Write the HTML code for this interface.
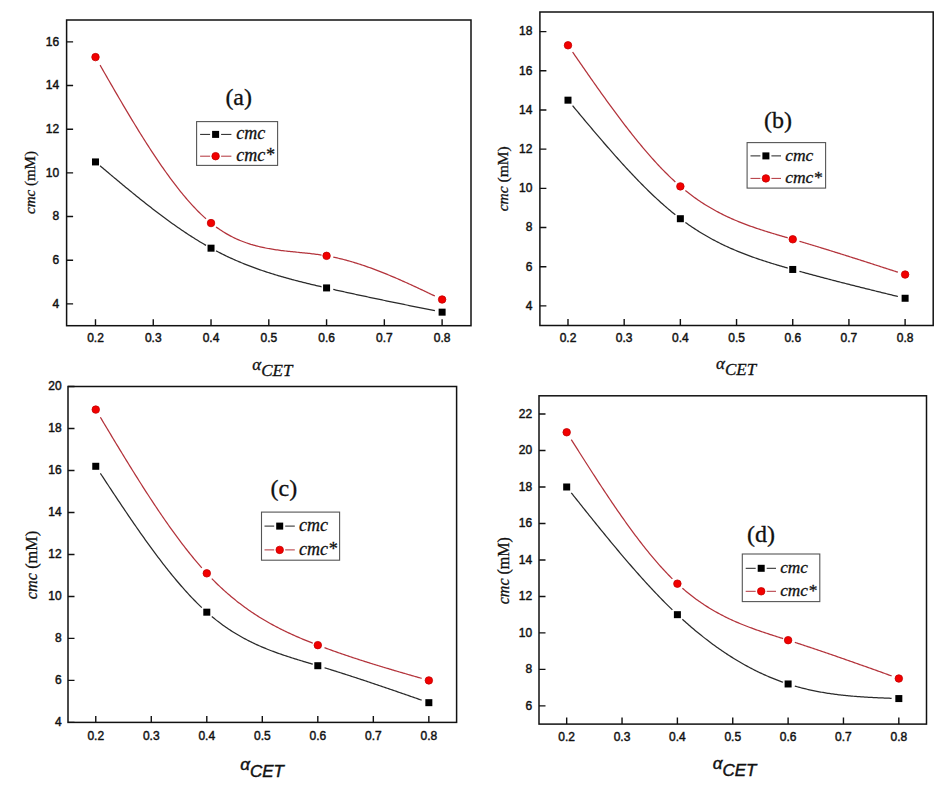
<!DOCTYPE html><html><head><meta charset="utf-8"><style>html,body{margin:0;padding:0;background:#fff;}svg{display:block;}.t{font-family:"Liberation Sans",Arial,sans-serif;font-size:12px;fill:#111;stroke:#111;stroke-width:0.45px;}.s{font-family:"Liberation Serif","Times New Roman",serif;fill:#111;stroke:#111;stroke-width:0.3px;}.i{font-style:italic;}</style></head><body>
<svg width="942" height="785" viewBox="0 0 942 785">
<rect width="942" height="785" fill="#fff"/>
<path d="M100.09,165.82 L101.43,166.95 L102.77,168.08 L104.11,169.21 L105.45,170.34 L106.79,171.47 L108.13,172.6 L109.47,173.73 L110.81,174.86 L112.16,175.98 L113.5,177.11 L114.84,178.23 L116.18,179.35 L117.52,180.47 L118.86,181.59 L120.2,182.7 L121.54,183.82 L122.88,184.93 L124.22,186.04 L125.57,187.15 L126.91,188.25 L128.25,189.35 L129.59,190.45 L130.93,191.55 L132.27,192.64 L133.61,193.74 L134.95,194.82 L136.29,195.91 L137.64,196.99 L138.98,198.07 L140.32,199.15 L141.66,200.22 L143,201.28 L144.34,202.35 L145.68,203.41 L147.02,204.47 L148.36,205.52 L149.7,206.57 L151.05,207.61 L152.39,208.65 L153.73,209.68 L155.07,210.71 L156.41,211.74 L157.75,212.76 L159.09,213.78 L160.43,214.79 L161.77,215.79 L163.12,216.79 L164.46,217.79 L165.8,218.78 L167.14,219.76 L168.48,220.74 L169.82,221.71 L171.16,222.67 L172.5,223.64 L173.84,224.59 L175.18,225.54 L176.53,226.48 L177.87,227.41 L179.21,228.34 L180.55,229.26 L181.89,230.18 L183.23,231.09 L184.57,231.99 L185.91,232.88 L187.25,233.77 L188.59,234.65 L189.94,235.52 L191.28,236.39 L192.62,237.24 L193.96,238.09 L195.3,238.93 L196.64,239.77 L197.98,240.59 L199.32,241.41 L200.66,242.22 L202.01,243.02 L203.35,243.81 L204.69,244.6 L206.03,245.37 M216.03,250.87 L217.36,251.57 L218.7,252.25 L220.04,252.93 L221.37,253.6 L222.71,254.27 L224.04,254.92 L225.38,255.57 L226.72,256.2 L228.05,256.83 L229.39,257.46 L230.72,258.07 L232.06,258.68 L233.4,259.28 L234.73,259.87 L236.07,260.45 L237.4,261.03 L238.74,261.6 L240.08,262.16 L241.41,262.71 L242.75,263.26 L244.08,263.8 L245.42,264.34 L246.76,264.87 L248.09,265.39 L249.43,265.9 L250.76,266.41 L252.1,266.91 L253.44,267.41 L254.77,267.9 L256.11,268.39 L257.44,268.86 L258.78,269.34 L260.12,269.8 L261.45,270.26 L262.79,270.72 L264.12,271.17 L265.46,271.61 L266.8,272.05 L268.13,272.49 L269.47,272.92 L270.8,273.34 L272.14,273.76 L273.48,274.18 L274.81,274.59 L276.15,275 L277.48,275.4 L278.82,275.79 L280.16,276.19 L281.49,276.58 L282.83,276.96 L284.16,277.34 L285.5,277.72 L286.84,278.09 L288.17,278.46 L289.51,278.83 L290.84,279.19 L292.18,279.55 L293.52,279.9 L294.85,280.26 L296.19,280.6 L297.52,280.95 L298.86,281.29 L300.2,281.63 L301.53,281.97 L302.87,282.31 L304.2,282.64 L305.54,282.97 L306.88,283.3 L308.21,283.62 L309.55,283.95 L310.88,284.27 L312.22,284.59 L313.56,284.91 L314.89,285.22 L316.23,285.54 L317.56,285.85 L318.9,286.16 L320.24,286.47 L321.57,286.78 M333.27,289.44 L334.56,289.73 L335.84,290.02 L337.13,290.3 L338.42,290.59 L339.7,290.88 L340.99,291.16 L342.28,291.45 L343.56,291.73 L344.85,292.01 L346.14,292.29 L347.42,292.58 L348.71,292.86 L350,293.14 L351.28,293.42 L352.57,293.7 L353.86,293.98 L355.14,294.26 L356.43,294.53 L357.72,294.81 L359,295.09 L360.29,295.36 L361.58,295.64 L362.86,295.91 L364.15,296.19 L365.44,296.46 L366.72,296.73 L368.01,297.01 L369.3,297.28 L370.58,297.55 L371.87,297.82 L373.16,298.09 L374.44,298.36 L375.73,298.63 L377.02,298.9 L378.3,299.17 L379.59,299.44 L380.88,299.71 L382.16,299.98 L383.45,300.25 L384.74,300.51 L386.02,300.78 L387.31,301.05 L388.6,301.31 L389.88,301.58 L391.17,301.84 L392.46,302.11 L393.74,302.37 L395.03,302.64 L396.32,302.9 L397.6,303.16 L398.89,303.43 L400.18,303.69 L401.46,303.95 L402.75,304.22 L404.04,304.48 L405.32,304.74 L406.61,305 L407.9,305.26 L409.18,305.52 L410.47,305.79 L411.76,306.05 L413.04,306.31 L414.33,306.57 L415.62,306.83 L416.9,307.09 L418.19,307.35 L419.47,307.61 L420.76,307.87 L422.05,308.13 L423.33,308.39 L424.62,308.65 L425.91,308.9 L427.19,309.16 L428.48,309.42 L429.77,309.68 L431.05,309.94 L432.34,310.2 L433.63,310.46 L434.91,310.72" fill="none" stroke="#2a2a2a" stroke-width="1.25"/>
<path d="M100.09,65.17 L101.43,67.51 L102.77,69.86 L104.11,72.2 L105.45,74.53 L106.79,76.87 L108.13,79.2 L109.47,81.53 L110.81,83.86 L112.16,86.18 L113.5,88.5 L114.84,90.82 L116.18,93.12 L117.52,95.43 L118.86,97.73 L120.2,100.02 L121.54,102.3 L122.88,104.58 L124.22,106.86 L125.57,109.12 L126.91,111.38 L128.25,113.63 L129.59,115.87 L130.93,118.1 L132.27,120.32 L133.61,122.54 L134.95,124.74 L136.29,126.94 L137.64,129.12 L138.98,131.3 L140.32,133.46 L141.66,135.61 L143,137.75 L144.34,139.88 L145.68,141.99 L147.02,144.09 L148.36,146.18 L149.7,148.26 L151.05,150.32 L152.39,152.37 L153.73,154.4 L155.07,156.42 L156.41,158.42 L157.75,160.41 L159.09,162.38 L160.43,164.34 L161.77,166.28 L163.12,168.2 L164.46,170.11 L165.8,172 L167.14,173.87 L168.48,175.72 L169.82,177.55 L171.16,179.37 L172.5,181.16 L173.84,182.94 L175.18,184.7 L176.53,186.43 L177.87,188.15 L179.21,189.84 L180.55,191.52 L181.89,193.17 L183.23,194.8 L184.57,196.41 L185.91,197.99 L187.25,199.55 L188.59,201.09 L189.94,202.61 L191.28,204.1 L192.62,205.57 L193.96,207.01 L195.3,208.43 L196.64,209.82 L197.98,211.19 L199.32,212.53 L200.66,213.84 L202.01,215.13 L203.35,216.39 L204.69,217.62 L206.03,218.83 M216.03,226.92 L217.36,227.88 L218.7,228.81 L220.04,229.72 L221.37,230.6 L222.71,231.46 L224.04,232.29 L225.38,233.09 L226.72,233.88 L228.05,234.63 L229.39,235.37 L230.72,236.08 L232.06,236.77 L233.4,237.44 L234.73,238.08 L236.07,238.71 L237.4,239.31 L238.74,239.89 L240.08,240.46 L241.41,241 L242.75,241.53 L244.08,242.03 L245.42,242.52 L246.76,242.99 L248.09,243.45 L249.43,243.88 L250.76,244.31 L252.1,244.71 L253.44,245.1 L254.77,245.47 L256.11,245.84 L257.44,246.18 L258.78,246.51 L260.12,246.83 L261.45,247.14 L262.79,247.43 L264.12,247.72 L265.46,247.99 L266.8,248.25 L268.13,248.5 L269.47,248.74 L270.8,248.97 L272.14,249.19 L273.48,249.4 L274.81,249.61 L276.15,249.8 L277.48,249.99 L278.82,250.17 L280.16,250.35 L281.49,250.52 L282.83,250.68 L284.16,250.84 L285.5,251 L286.84,251.15 L288.17,251.29 L289.51,251.44 L290.84,251.58 L292.18,251.71 L293.52,251.85 L294.85,251.98 L296.19,252.12 L297.52,252.25 L298.86,252.38 L300.2,252.51 L301.53,252.64 L302.87,252.78 L304.2,252.91 L305.54,253.05 L306.88,253.19 L308.21,253.33 L309.55,253.48 L310.88,253.63 L312.22,253.78 L313.56,253.94 L314.89,254.11 L316.23,254.28 L317.56,254.45 L318.9,254.63 L320.24,254.82 L321.57,255.02 M333.27,257.11 L334.56,257.38 L335.84,257.66 L337.13,257.95 L338.42,258.24 L339.7,258.55 L340.99,258.86 L342.28,259.18 L343.56,259.51 L344.85,259.84 L346.14,260.18 L347.42,260.53 L348.71,260.89 L350,261.25 L351.28,261.63 L352.57,262 L353.86,262.39 L355.14,262.78 L356.43,263.18 L357.72,263.58 L359,263.99 L360.29,264.41 L361.58,264.83 L362.86,265.26 L364.15,265.7 L365.44,266.14 L366.72,266.58 L368.01,267.04 L369.3,267.49 L370.58,267.96 L371.87,268.43 L373.16,268.9 L374.44,269.38 L375.73,269.87 L377.02,270.36 L378.3,270.85 L379.59,271.35 L380.88,271.86 L382.16,272.37 L383.45,272.88 L384.74,273.4 L386.02,273.92 L387.31,274.45 L388.6,274.98 L389.88,275.51 L391.17,276.05 L392.46,276.6 L393.74,277.14 L395.03,277.69 L396.32,278.25 L397.6,278.8 L398.89,279.37 L400.18,279.93 L401.46,280.5 L402.75,281.07 L404.04,281.64 L405.32,282.22 L406.61,282.8 L407.9,283.38 L409.18,283.96 L410.47,284.55 L411.76,285.14 L413.04,285.73 L414.33,286.32 L415.62,286.92 L416.9,287.52 L418.19,288.12 L419.47,288.72 L420.76,289.32 L422.05,289.93 L423.33,290.53 L424.62,291.14 L425.91,291.75 L427.19,292.36 L428.48,292.97 L429.77,293.58 L431.05,294.2 L432.34,294.81 L433.63,295.43 L434.91,296.04" fill="none" stroke="#b3333b" stroke-width="1.25"/>
<rect x="91.99" y="158.43" width="7" height="7" fill="#000"/>
<rect x="207.53" y="244.68" width="7" height="7" fill="#000"/>
<rect x="323.07" y="284.42" width="7" height="7" fill="#000"/>
<rect x="438.61" y="308.66" width="7" height="7" fill="#000"/>
<circle cx="95.49" cy="57.12" r="3.75" fill="#f20000" stroke="#c40000" stroke-width="0.8"/>
<circle cx="211.03" cy="223.07" r="3.75" fill="#f20000" stroke="#c40000" stroke-width="0.8"/>
<circle cx="326.57" cy="255.83" r="3.75" fill="#f20000" stroke="#c40000" stroke-width="0.8"/>
<circle cx="442.11" cy="299.5" r="3.75" fill="#f20000" stroke="#c40000" stroke-width="0.8"/>
<rect x="66.6" y="20" width="404.4" height="305.7" fill="none" stroke="#111" stroke-width="1.5"/>
<text class="t" x="95.49" y="342" text-anchor="middle">0.2</text>
<text class="t" x="153.26" y="342" text-anchor="middle">0.3</text>
<text class="t" x="211.03" y="342" text-anchor="middle">0.4</text>
<text class="t" x="268.8" y="342" text-anchor="middle">0.5</text>
<text class="t" x="326.57" y="342" text-anchor="middle">0.6</text>
<text class="t" x="384.34" y="342" text-anchor="middle">0.7</text>
<text class="t" x="442.11" y="342" text-anchor="middle">0.8</text>
<text class="t" x="59.1" y="307.76" text-anchor="end">4</text>
<text class="t" x="59.1" y="264.09" text-anchor="end">6</text>
<text class="t" x="59.1" y="220.42" text-anchor="end">8</text>
<text class="t" x="59.1" y="176.75" text-anchor="end">10</text>
<text class="t" x="59.1" y="133.08" text-anchor="end">12</text>
<text class="t" x="59.1" y="89.41" text-anchor="end">14</text>
<text class="t" x="59.1" y="45.74" text-anchor="end">16</text>
<path d="M95.49 325.7v-6.5 M153.26 325.7v-6.5 M211.03 325.7v-6.5 M268.8 325.7v-6.5 M326.57 325.7v-6.5 M384.34 325.7v-6.5 M442.11 325.7v-6.5 M66.6 303.86h6.5 M66.6 260.19h6.5 M66.6 216.52h6.5 M66.6 172.85h6.5 M66.6 129.18h6.5 M66.6 85.51h6.5 M66.6 41.84h6.5" stroke="#111" stroke-width="1.4" fill="none"/>
<text class="s" x="238.7" y="105.3" font-size="24" text-anchor="middle">(a)</text>
<rect x="196.6" y="121.6" width="81" height="43.8" fill="#fff" stroke="#555" stroke-width="1.1"/>
<path d="M200.1 134.4H210.1M221.1 134.4H231.4" stroke="#222" stroke-width="1" fill="none"/>
<path d="M200.1 156.2H210.1M221.1 156.2H231.4" stroke="#b3333b" stroke-width="1" fill="none"/>
<rect x="212.1" y="130.9" width="7" height="7" fill="#000"/>
<circle cx="215.6" cy="156.2" r="3.75" fill="#f20000" stroke="#c40000" stroke-width="0.8"/>
<text class="s i" x="236.2" y="139.4" font-size="18">cmc</text>
<text class="s i" x="236.2" y="161.2" font-size="18">cmc*</text>
<text class="s" font-size="15" transform="translate(34.8,182.5) rotate(-90)" text-anchor="middle"><tspan font-style="italic">cmc</tspan> (mM)</text>
<text class="s i" x="252.3" y="370.3" font-size="17" style="font-size:17px">&#945;<tspan dy="5.9">CET</tspan></text>
<path d="M572.59,105.7 L573.89,107.27 L575.19,108.83 L576.5,110.39 L577.8,111.95 L579.1,113.51 L580.4,115.07 L581.7,116.63 L583,118.18 L584.3,119.74 L585.6,121.29 L586.9,122.84 L588.2,124.38 L589.5,125.93 L590.81,127.47 L592.11,129.01 L593.41,130.55 L594.71,132.08 L596.01,133.61 L597.31,135.14 L598.61,136.66 L599.91,138.18 L601.21,139.7 L602.51,141.21 L603.81,142.72 L605.12,144.22 L606.42,145.72 L607.72,147.22 L609.02,148.71 L610.32,150.19 L611.62,151.67 L612.92,153.15 L614.22,154.62 L615.52,156.08 L616.82,157.54 L618.12,158.99 L619.43,160.44 L620.73,161.88 L622.03,163.32 L623.33,164.74 L624.63,166.17 L625.93,167.58 L627.23,168.99 L628.53,170.39 L629.83,171.78 L631.13,173.17 L632.43,174.55 L633.74,175.92 L635.04,177.28 L636.34,178.64 L637.64,179.98 L638.94,181.32 L640.24,182.65 L641.54,183.97 L642.84,185.29 L644.14,186.59 L645.44,187.89 L646.74,189.17 L648.05,190.45 L649.35,191.72 L650.65,192.97 L651.95,194.22 L653.25,195.46 L654.55,196.69 L655.85,197.9 L657.15,199.11 L658.45,200.31 L659.75,201.49 L661.05,202.67 L662.36,203.83 L663.66,204.98 L664.96,206.12 L666.26,207.25 L667.56,208.37 L668.86,209.48 L670.16,210.57 L671.46,211.65 L672.76,212.72 L674.06,213.78 L675.36,214.82 M685.36,222.41 L686.66,223.34 L687.96,224.25 L689.25,225.16 L690.55,226.05 L691.84,226.93 L693.14,227.79 L694.44,228.64 L695.73,229.49 L697.03,230.32 L698.32,231.14 L699.62,231.95 L700.91,232.74 L702.21,233.53 L703.51,234.3 L704.8,235.07 L706.1,235.82 L707.39,236.56 L708.69,237.3 L709.99,238.02 L711.28,238.73 L712.58,239.43 L713.87,240.13 L715.17,240.81 L716.46,241.48 L717.76,242.15 L719.06,242.8 L720.35,243.45 L721.65,244.09 L722.94,244.71 L724.24,245.33 L725.54,245.95 L726.83,246.55 L728.13,247.14 L729.42,247.73 L730.72,248.31 L732.01,248.88 L733.31,249.44 L734.61,250 L735.9,250.55 L737.2,251.09 L738.49,251.62 L739.79,252.15 L741.09,252.67 L742.38,253.18 L743.68,253.69 L744.97,254.19 L746.27,254.69 L747.56,255.17 L748.86,255.66 L750.16,256.13 L751.45,256.6 L752.75,257.07 L754.04,257.53 L755.34,257.98 L756.64,258.43 L757.93,258.88 L759.23,259.32 L760.52,259.75 L761.82,260.18 L763.11,260.61 L764.41,261.03 L765.71,261.45 L767,261.86 L768.3,262.27 L769.59,262.68 L770.89,263.08 L772.19,263.48 L773.48,263.88 L774.78,264.27 L776.07,264.66 L777.37,265.04 L778.66,265.43 L779.96,265.81 L781.26,266.19 L782.55,266.57 L783.85,266.94 L785.14,267.31 L786.44,267.68 L787.74,268.05 M799.44,271.32 L800.68,271.67 L801.93,272.01 L803.18,272.35 L804.42,272.69 L805.67,273.03 L806.91,273.37 L808.16,273.71 L809.41,274.05 L810.65,274.38 L811.9,274.72 L813.15,275.05 L814.39,275.39 L815.64,275.72 L816.89,276.05 L818.13,276.39 L819.38,276.72 L820.63,277.05 L821.87,277.38 L823.12,277.7 L824.37,278.03 L825.61,278.36 L826.86,278.69 L828.1,279.01 L829.35,279.34 L830.6,279.66 L831.84,279.99 L833.09,280.31 L834.34,280.63 L835.58,280.95 L836.83,281.27 L838.08,281.6 L839.32,281.92 L840.57,282.24 L841.82,282.55 L843.06,282.87 L844.31,283.19 L845.56,283.51 L846.8,283.83 L848.05,284.14 L849.29,284.46 L850.54,284.77 L851.79,285.09 L853.03,285.4 L854.28,285.72 L855.53,286.03 L856.77,286.34 L858.02,286.66 L859.27,286.97 L860.51,287.28 L861.76,287.59 L863.01,287.9 L864.25,288.21 L865.5,288.52 L866.75,288.83 L867.99,289.14 L869.24,289.45 L870.48,289.76 L871.73,290.07 L872.98,290.38 L874.22,290.69 L875.47,291 L876.72,291.3 L877.96,291.61 L879.21,291.92 L880.46,292.22 L881.7,292.53 L882.95,292.84 L884.2,293.14 L885.44,293.45 L886.69,293.76 L887.94,294.06 L889.18,294.37 L890.43,294.67 L891.67,294.98 L892.92,295.28 L894.17,295.59 L895.41,295.89 L896.66,296.2 L897.91,296.5" fill="none" stroke="#2a2a2a" stroke-width="1.25"/>
<path d="M572.59,52 L573.89,53.89 L575.19,55.78 L576.5,57.66 L577.8,59.55 L579.1,61.44 L580.4,63.32 L581.7,65.2 L583,67.08 L584.3,68.96 L585.6,70.83 L586.9,72.7 L588.2,74.57 L589.5,76.44 L590.81,78.3 L592.11,80.15 L593.41,82.01 L594.71,83.86 L596.01,85.7 L597.31,87.55 L598.61,89.38 L599.91,91.21 L601.21,93.04 L602.51,94.86 L603.81,96.68 L605.12,98.49 L606.42,100.29 L607.72,102.09 L609.02,103.88 L610.32,105.67 L611.62,107.45 L612.92,109.22 L614.22,110.98 L615.52,112.74 L616.82,114.49 L618.12,116.23 L619.43,117.96 L620.73,119.69 L622.03,121.4 L623.33,123.11 L624.63,124.81 L625.93,126.5 L627.23,128.18 L628.53,129.85 L629.83,131.51 L631.13,133.17 L632.43,134.81 L633.74,136.44 L635.04,138.06 L636.34,139.67 L637.64,141.27 L638.94,142.86 L640.24,144.44 L641.54,146 L642.84,147.55 L644.14,149.1 L645.44,150.63 L646.74,152.14 L648.05,153.65 L649.35,155.14 L650.65,156.62 L651.95,158.08 L653.25,159.53 L654.55,160.97 L655.85,162.4 L657.15,163.81 L658.45,165.2 L659.75,166.59 L661.05,167.95 L662.36,169.31 L663.66,170.64 L664.96,171.96 L666.26,173.27 L667.56,174.56 L668.86,175.84 L670.16,177.1 L671.46,178.34 L672.76,179.56 L674.06,180.77 L675.36,181.96 M685.36,190.54 L686.66,191.58 L687.96,192.6 L689.25,193.6 L690.55,194.59 L691.84,195.56 L693.14,196.51 L694.44,197.45 L695.73,198.37 L697.03,199.28 L698.32,200.18 L699.62,201.05 L700.91,201.92 L702.21,202.77 L703.51,203.6 L704.8,204.42 L706.1,205.23 L707.39,206.02 L708.69,206.8 L709.99,207.57 L711.28,208.32 L712.58,209.07 L713.87,209.8 L715.17,210.51 L716.46,211.22 L717.76,211.91 L719.06,212.59 L720.35,213.26 L721.65,213.92 L722.94,214.57 L724.24,215.21 L725.54,215.83 L726.83,216.45 L728.13,217.06 L729.42,217.66 L730.72,218.24 L732.01,218.82 L733.31,219.39 L734.61,219.95 L735.9,220.5 L737.2,221.04 L738.49,221.58 L739.79,222.1 L741.09,222.62 L742.38,223.13 L743.68,223.63 L744.97,224.13 L746.27,224.62 L747.56,225.1 L748.86,225.57 L750.16,226.04 L751.45,226.5 L752.75,226.96 L754.04,227.41 L755.34,227.86 L756.64,228.3 L757.93,228.73 L759.23,229.16 L760.52,229.59 L761.82,230.01 L763.11,230.42 L764.41,230.84 L765.71,231.25 L767,231.65 L768.3,232.05 L769.59,232.45 L770.89,232.85 L772.19,233.24 L773.48,233.63 L774.78,234.02 L776.07,234.41 L777.37,234.79 L778.66,235.17 L779.96,235.56 L781.26,235.94 L782.55,236.32 L783.85,236.69 L785.14,237.07 L786.44,237.45 L787.74,237.83 M799.44,241.26 L800.68,241.63 L801.93,242 L803.18,242.38 L804.42,242.75 L805.67,243.12 L806.91,243.49 L808.16,243.87 L809.41,244.25 L810.65,244.62 L811.9,245 L813.15,245.38 L814.39,245.75 L815.64,246.13 L816.89,246.51 L818.13,246.89 L819.38,247.27 L820.63,247.66 L821.87,248.04 L823.12,248.42 L824.37,248.81 L825.61,249.19 L826.86,249.58 L828.1,249.96 L829.35,250.35 L830.6,250.73 L831.84,251.12 L833.09,251.51 L834.34,251.9 L835.58,252.29 L836.83,252.68 L838.08,253.07 L839.32,253.46 L840.57,253.85 L841.82,254.24 L843.06,254.63 L844.31,255.02 L845.56,255.42 L846.8,255.81 L848.05,256.2 L849.29,256.6 L850.54,256.99 L851.79,257.39 L853.03,257.78 L854.28,258.18 L855.53,258.58 L856.77,258.97 L858.02,259.37 L859.27,259.77 L860.51,260.17 L861.76,260.57 L863.01,260.96 L864.25,261.36 L865.5,261.76 L866.75,262.16 L867.99,262.56 L869.24,262.96 L870.48,263.36 L871.73,263.76 L872.98,264.16 L874.22,264.56 L875.47,264.97 L876.72,265.37 L877.96,265.77 L879.21,266.17 L880.46,266.57 L881.7,266.98 L882.95,267.38 L884.2,267.78 L885.44,268.18 L886.69,268.59 L887.94,268.99 L889.18,269.39 L890.43,269.8 L891.67,270.2 L892.92,270.61 L894.17,271.01 L895.41,271.41 L896.66,271.82 L897.91,272.22" fill="none" stroke="#b3333b" stroke-width="1.25"/>
<rect x="564.49" y="96.67" width="7" height="7" fill="#000"/>
<rect x="676.86" y="215.21" width="7" height="7" fill="#000"/>
<rect x="789.24" y="265.96" width="7" height="7" fill="#000"/>
<rect x="901.61" y="294.76" width="7" height="7" fill="#000"/>
<circle cx="567.99" cy="45.31" r="3.75" fill="#f20000" stroke="#c40000" stroke-width="0.8"/>
<circle cx="680.36" cy="186.38" r="3.75" fill="#f20000" stroke="#c40000" stroke-width="0.8"/>
<circle cx="792.74" cy="239.29" r="3.75" fill="#f20000" stroke="#c40000" stroke-width="0.8"/>
<circle cx="905.11" cy="274.56" r="3.75" fill="#f20000" stroke="#c40000" stroke-width="0.8"/>
<rect x="539.9" y="12" width="393.3" height="313.5" fill="none" stroke="#111" stroke-width="1.5"/>
<text class="t" x="567.99" y="342" text-anchor="middle">0.2</text>
<text class="t" x="624.18" y="342" text-anchor="middle">0.3</text>
<text class="t" x="680.36" y="342" text-anchor="middle">0.4</text>
<text class="t" x="736.55" y="342" text-anchor="middle">0.5</text>
<text class="t" x="792.74" y="342" text-anchor="middle">0.6</text>
<text class="t" x="848.92" y="342" text-anchor="middle">0.7</text>
<text class="t" x="905.11" y="342" text-anchor="middle">0.8</text>
<text class="t" x="532.4" y="309.81" text-anchor="end">4</text>
<text class="t" x="532.4" y="270.62" text-anchor="end">6</text>
<text class="t" x="532.4" y="231.43" text-anchor="end">8</text>
<text class="t" x="532.4" y="192.24" text-anchor="end">10</text>
<text class="t" x="532.4" y="153.06" text-anchor="end">12</text>
<text class="t" x="532.4" y="113.87" text-anchor="end">14</text>
<text class="t" x="532.4" y="74.68" text-anchor="end">16</text>
<text class="t" x="532.4" y="35.49" text-anchor="end">18</text>
<path d="M567.99 325.5v-6.5 M624.18 325.5v-6.5 M680.36 325.5v-6.5 M736.55 325.5v-6.5 M792.74 325.5v-6.5 M848.92 325.5v-6.5 M905.11 325.5v-6.5 M539.9 305.91h6.5 M539.9 266.72h6.5 M539.9 227.53h6.5 M539.9 188.34h6.5 M539.9 149.16h6.5 M539.9 109.97h6.5 M539.9 70.78h6.5 M539.9 31.59h6.5" stroke="#111" stroke-width="1.4" fill="none"/>
<text class="s" x="778" y="128" font-size="24" text-anchor="middle">(b)</text>
<rect x="747.1" y="142.6" width="78.5" height="45.5" fill="#fff" stroke="#555" stroke-width="1.1"/>
<path d="M750.5 155.9H760.4M771.4 155.9H781" stroke="#222" stroke-width="1" fill="none"/>
<path d="M750.5 178.4H760.4M771.4 178.4H781" stroke="#b3333b" stroke-width="1" fill="none"/>
<rect x="762.4" y="152.4" width="7" height="7" fill="#000"/>
<circle cx="765.9" cy="178.4" r="3.75" fill="#f20000" stroke="#c40000" stroke-width="0.8"/>
<text class="s i" x="785.2" y="160.9" font-size="17.5">cmc</text>
<text class="s i" x="785.2" y="183.4" font-size="17.5">cmc*</text>
<text class="s" font-size="15.5" transform="translate(508.4,178.8) rotate(-90)" text-anchor="middle"><tspan font-style="italic">cmc</tspan> (mM)</text>
<text class="s i" x="716" y="368.7" font-size="17" style="font-size:17px">&#945;<tspan dy="6.3">CET</tspan></text>
<path d="M100.36,473.29 L101.64,475.25 L102.92,477.21 L104.21,479.16 L105.49,481.12 L106.78,483.07 L108.06,485.02 L109.34,486.97 L110.63,488.91 L111.91,490.86 L113.2,492.8 L114.48,494.74 L115.76,496.67 L117.05,498.6 L118.33,500.53 L119.62,502.45 L120.9,504.37 L122.18,506.29 L123.47,508.2 L124.75,510.1 L126.04,512 L127.32,513.9 L128.6,515.79 L129.89,517.68 L131.17,519.56 L132.45,521.43 L133.74,523.3 L135.02,525.16 L136.31,527.01 L137.59,528.86 L138.87,530.7 L140.16,532.53 L141.44,534.35 L142.73,536.17 L144.01,537.98 L145.29,539.78 L146.58,541.57 L147.86,543.36 L149.15,545.13 L150.43,546.9 L151.71,548.66 L153,550.4 L154.28,552.14 L155.57,553.87 L156.85,555.59 L158.13,557.29 L159.42,558.99 L160.7,560.67 L161.98,562.35 L163.27,564.01 L164.55,565.66 L165.84,567.3 L167.12,568.93 L168.4,570.55 L169.69,572.15 L170.97,573.74 L172.26,575.32 L173.54,576.89 L174.82,578.44 L176.11,579.98 L177.39,581.5 L178.68,583.01 L179.96,584.51 L181.24,585.99 L182.53,587.46 L183.81,588.91 L185.09,590.35 L186.38,591.78 L187.66,593.18 L188.95,594.58 L190.23,595.95 L191.51,597.31 L192.8,598.66 L194.08,599.98 L195.37,601.29 L196.65,602.59 L197.93,603.87 L199.22,605.12 L200.5,606.37 L201.79,607.59 M211.79,616.49 L213.06,617.55 L214.34,618.59 L215.62,619.62 L216.9,620.62 L218.18,621.61 L219.46,622.58 L220.74,623.54 L222.02,624.48 L223.3,625.4 L224.57,626.31 L225.85,627.21 L227.13,628.08 L228.41,628.95 L229.69,629.79 L230.97,630.63 L232.25,631.44 L233.53,632.25 L234.8,633.04 L236.08,633.82 L237.36,634.58 L238.64,635.33 L239.92,636.07 L241.2,636.79 L242.48,637.51 L243.76,638.21 L245.04,638.89 L246.31,639.57 L247.59,640.23 L248.87,640.89 L250.15,641.53 L251.43,642.16 L252.71,642.78 L253.99,643.39 L255.27,643.99 L256.55,644.58 L257.82,645.16 L259.1,645.73 L260.38,646.3 L261.66,646.85 L262.94,647.39 L264.22,647.93 L265.5,648.45 L266.78,648.97 L268.05,649.48 L269.33,649.99 L270.61,650.48 L271.89,650.97 L273.17,651.45 L274.45,651.93 L275.73,652.4 L277.01,652.86 L278.29,653.32 L279.56,653.77 L280.84,654.21 L282.12,654.65 L283.4,655.09 L284.68,655.52 L285.96,655.94 L287.24,656.36 L288.52,656.78 L289.8,657.19 L291.07,657.6 L292.35,658.01 L293.63,658.41 L294.91,658.81 L296.19,659.21 L297.47,659.6 L298.75,659.99 L300.03,660.38 L301.3,660.77 L302.58,661.16 L303.86,661.54 L305.14,661.93 L306.42,662.31 L307.7,662.69 L308.98,663.07 L310.26,663.45 L311.54,663.84 L312.81,664.22 M324.51,667.76 L325.74,668.13 L326.97,668.51 L328.2,668.89 L329.43,669.27 L330.66,669.66 L331.89,670.04 L333.12,670.43 L334.35,670.81 L335.58,671.2 L336.81,671.59 L338.04,671.98 L339.27,672.37 L340.5,672.76 L341.73,673.15 L342.96,673.54 L344.19,673.94 L345.42,674.33 L346.64,674.73 L347.87,675.13 L349.1,675.53 L350.33,675.93 L351.56,676.33 L352.79,676.73 L354.02,677.13 L355.25,677.53 L356.48,677.93 L357.71,678.34 L358.94,678.74 L360.17,679.15 L361.4,679.56 L362.63,679.96 L363.86,680.37 L365.09,680.78 L366.32,681.19 L367.55,681.6 L368.78,682.01 L370,682.42 L371.23,682.84 L372.46,683.25 L373.69,683.66 L374.92,684.08 L376.15,684.49 L377.38,684.91 L378.61,685.32 L379.84,685.74 L381.07,686.16 L382.3,686.58 L383.53,687 L384.76,687.41 L385.99,687.83 L387.22,688.25 L388.45,688.67 L389.68,689.1 L390.91,689.52 L392.14,689.94 L393.36,690.36 L394.59,690.78 L395.82,691.21 L397.05,691.63 L398.28,692.05 L399.51,692.48 L400.74,692.9 L401.97,693.33 L403.2,693.75 L404.43,694.18 L405.66,694.6 L406.89,695.03 L408.12,695.46 L409.35,695.88 L410.58,696.31 L411.81,696.74 L413.04,697.16 L414.27,697.59 L415.5,698.02 L416.72,698.45 L417.95,698.87 L419.18,699.3 L420.41,699.73 L421.64,700.16" fill="none" stroke="#2a2a2a" stroke-width="1.25"/>
<path d="M100.36,417.29 L101.64,419.44 L102.92,421.58 L104.21,423.73 L105.49,425.87 L106.78,428.02 L108.06,430.16 L109.34,432.29 L110.63,434.43 L111.91,436.57 L113.2,438.7 L114.48,440.83 L115.76,442.95 L117.05,445.07 L118.33,447.19 L119.62,449.31 L120.9,451.42 L122.18,453.53 L123.47,455.63 L124.75,457.73 L126.04,459.82 L127.32,461.91 L128.6,464 L129.89,466.08 L131.17,468.15 L132.45,470.22 L133.74,472.28 L135.02,474.34 L136.31,476.39 L137.59,478.43 L138.87,480.47 L140.16,482.5 L141.44,484.52 L142.73,486.54 L144.01,488.54 L145.29,490.54 L146.58,492.54 L147.86,494.52 L149.15,496.5 L150.43,498.47 L151.71,500.42 L153,502.37 L154.28,504.31 L155.57,506.25 L156.85,508.17 L158.13,510.08 L159.42,511.98 L160.7,513.87 L161.98,515.76 L163.27,517.63 L164.55,519.49 L165.84,521.34 L167.12,523.17 L168.4,525 L169.69,526.82 L170.97,528.62 L172.26,530.41 L173.54,532.19 L174.82,533.96 L176.11,535.71 L177.39,537.45 L178.68,539.18 L179.96,540.9 L181.24,542.6 L182.53,544.28 L183.81,545.96 L185.09,547.62 L186.38,549.26 L187.66,550.9 L188.95,552.51 L190.23,554.11 L191.51,555.7 L192.8,557.27 L194.08,558.83 L195.37,560.37 L196.65,561.89 L197.93,563.4 L199.22,564.89 L200.5,566.37 L201.79,567.83 M211.79,578.6 L213.06,579.9 L214.34,581.18 L215.62,582.45 L216.9,583.7 L218.18,584.94 L219.46,586.16 L220.74,587.36 L222.02,588.55 L223.3,589.72 L224.57,590.88 L225.85,592.02 L227.13,593.15 L228.41,594.26 L229.69,595.35 L230.97,596.44 L232.25,597.51 L233.53,598.56 L234.8,599.6 L236.08,600.62 L237.36,601.64 L238.64,602.64 L239.92,603.62 L241.2,604.59 L242.48,605.55 L243.76,606.5 L245.04,607.43 L246.31,608.35 L247.59,609.26 L248.87,610.16 L250.15,611.04 L251.43,611.92 L252.71,612.78 L253.99,613.63 L255.27,614.46 L256.55,615.29 L257.82,616.11 L259.1,616.91 L260.38,617.71 L261.66,618.49 L262.94,619.27 L264.22,620.03 L265.5,620.78 L266.78,621.53 L268.05,622.26 L269.33,622.99 L270.61,623.7 L271.89,624.41 L273.17,625.1 L274.45,625.79 L275.73,626.47 L277.01,627.15 L278.29,627.81 L279.56,628.46 L280.84,629.11 L282.12,629.75 L283.4,630.38 L284.68,631.01 L285.96,631.62 L287.24,632.23 L288.52,632.84 L289.8,633.43 L291.07,634.02 L292.35,634.61 L293.63,635.18 L294.91,635.75 L296.19,636.32 L297.47,636.88 L298.75,637.43 L300.03,637.98 L301.3,638.52 L302.58,639.06 L303.86,639.6 L305.14,640.12 L306.42,640.65 L307.7,641.17 L308.98,641.68 L310.26,642.19 L311.54,642.7 L312.81,643.21 M324.51,647.67 L325.74,648.12 L326.97,648.58 L328.2,649.03 L329.43,649.47 L330.66,649.92 L331.89,650.36 L333.12,650.8 L334.35,651.24 L335.58,651.68 L336.81,652.11 L338.04,652.55 L339.27,652.98 L340.5,653.4 L341.73,653.83 L342.96,654.25 L344.19,654.67 L345.42,655.09 L346.64,655.51 L347.87,655.92 L349.1,656.34 L350.33,656.75 L351.56,657.16 L352.79,657.57 L354.02,657.97 L355.25,658.38 L356.48,658.78 L357.71,659.18 L358.94,659.58 L360.17,659.98 L361.4,660.37 L362.63,660.77 L363.86,661.16 L365.09,661.55 L366.32,661.94 L367.55,662.33 L368.78,662.71 L370,663.1 L371.23,663.48 L372.46,663.86 L373.69,664.24 L374.92,664.62 L376.15,665 L377.38,665.38 L378.61,665.76 L379.84,666.13 L381.07,666.5 L382.3,666.88 L383.53,667.25 L384.76,667.62 L385.99,667.99 L387.22,668.35 L388.45,668.72 L389.68,669.09 L390.91,669.45 L392.14,669.82 L393.36,670.18 L394.59,670.54 L395.82,670.9 L397.05,671.26 L398.28,671.62 L399.51,671.98 L400.74,672.34 L401.97,672.7 L403.2,673.06 L404.43,673.41 L405.66,673.77 L406.89,674.12 L408.12,674.48 L409.35,674.83 L410.58,675.19 L411.81,675.54 L413.04,675.9 L414.27,676.25 L415.5,676.6 L416.72,676.95 L417.95,677.3 L419.18,677.66 L420.41,678.01 L421.64,678.36" fill="none" stroke="#b3333b" stroke-width="1.25"/>
<rect x="92.26" y="462.78" width="7" height="7" fill="#000"/>
<rect x="203.29" y="608.68" width="7" height="7" fill="#000"/>
<rect x="314.31" y="662.22" width="7" height="7" fill="#000"/>
<rect x="425.34" y="699.17" width="7" height="7" fill="#000"/>
<circle cx="95.76" cy="409.59" r="3.75" fill="#f20000" stroke="#c40000" stroke-width="0.8"/>
<circle cx="206.79" cy="573.34" r="3.75" fill="#f20000" stroke="#c40000" stroke-width="0.8"/>
<circle cx="317.81" cy="645.14" r="3.75" fill="#f20000" stroke="#c40000" stroke-width="0.8"/>
<circle cx="428.84" cy="680.41" r="3.75" fill="#f20000" stroke="#c40000" stroke-width="0.8"/>
<rect x="68" y="386.5" width="388.6" height="335.9" fill="none" stroke="#111" stroke-width="1.5"/>
<text class="t" x="95.76" y="739.9" text-anchor="middle">0.2</text>
<text class="t" x="151.27" y="739.9" text-anchor="middle">0.3</text>
<text class="t" x="206.79" y="739.9" text-anchor="middle">0.4</text>
<text class="t" x="262.3" y="739.9" text-anchor="middle">0.5</text>
<text class="t" x="317.81" y="739.9" text-anchor="middle">0.6</text>
<text class="t" x="373.33" y="739.9" text-anchor="middle">0.7</text>
<text class="t" x="428.84" y="739.9" text-anchor="middle">0.8</text>
<text class="t" x="61.7" y="726.3" text-anchor="end">4</text>
<text class="t" x="61.7" y="684.31" text-anchor="end">6</text>
<text class="t" x="61.7" y="642.32" text-anchor="end">8</text>
<text class="t" x="61.7" y="600.34" text-anchor="end">10</text>
<text class="t" x="61.7" y="558.35" text-anchor="end">12</text>
<text class="t" x="61.7" y="516.36" text-anchor="end">14</text>
<text class="t" x="61.7" y="474.38" text-anchor="end">16</text>
<text class="t" x="61.7" y="432.39" text-anchor="end">18</text>
<text class="t" x="61.7" y="390.4" text-anchor="end">20</text>
<path d="M95.76 722.4v-6.5 M151.27 722.4v-6.5 M206.79 722.4v-6.5 M262.3 722.4v-6.5 M317.81 722.4v-6.5 M373.33 722.4v-6.5 M428.84 722.4v-6.5 M68 722.4h6.5 M68 680.41h6.5 M68 638.42h6.5 M68 596.44h6.5 M68 554.45h6.5 M68 512.46h6.5 M68 470.48h6.5 M68 428.49h6.5 M68 386.5h6.5" stroke="#111" stroke-width="1.4" fill="none"/>
<text class="s" x="283.9" y="496.2" font-size="24" text-anchor="middle">(c)</text>
<rect x="261.5" y="512.1" width="78.1" height="48.1" fill="#fff" stroke="#555" stroke-width="1.1"/>
<path d="M264.5 526.1H274.2M285.2 526.1H294.8" stroke="#222" stroke-width="1" fill="none"/>
<path d="M264.5 549.9H274.2M285.2 549.9H294.8" stroke="#b3333b" stroke-width="1" fill="none"/>
<rect x="276.2" y="522.6" width="7" height="7" fill="#000"/>
<circle cx="279.7" cy="549.9" r="3.75" fill="#f20000" stroke="#c40000" stroke-width="0.8"/>
<text class="s i" x="299" y="531.1" font-size="18">cmc</text>
<text class="s i" x="299" y="554.9" font-size="18">cmc*</text>
<text class="s" font-size="16.3" transform="translate(36.8,565) rotate(-90)" text-anchor="middle"><tspan font-style="italic">cmc</tspan> (mM)</text>
<text class="t i" x="240.2" y="770.3" font-size="17" style="font-size:17px">&#945;<tspan dy="6.3">CET</tspan></text>
<path d="M571.28,492.79 L572.56,494.41 L573.84,496.02 L575.12,497.63 L576.4,499.24 L577.68,500.85 L578.96,502.46 L580.24,504.07 L581.52,505.68 L582.8,507.28 L584.08,508.89 L585.36,510.49 L586.64,512.09 L587.92,513.69 L589.2,515.29 L590.48,516.88 L591.76,518.48 L593.04,520.07 L594.32,521.66 L595.6,523.24 L596.88,524.83 L598.16,526.41 L599.44,527.99 L600.72,529.56 L602,531.14 L603.28,532.71 L604.56,534.27 L605.84,535.84 L607.12,537.4 L608.4,538.95 L609.68,540.51 L610.96,542.06 L612.24,543.6 L613.52,545.14 L614.8,546.68 L616.08,548.22 L617.36,549.75 L618.64,551.27 L619.92,552.79 L621.2,554.31 L622.48,555.82 L623.76,557.32 L625.04,558.83 L626.32,560.32 L627.6,561.81 L628.88,563.3 L630.16,564.78 L631.44,566.26 L632.72,567.72 L634,569.19 L635.27,570.65 L636.55,572.1 L637.83,573.54 L639.11,574.98 L640.39,576.42 L641.67,577.85 L642.95,579.27 L644.23,580.68 L645.51,582.09 L646.79,583.49 L648.07,584.88 L649.35,586.27 L650.63,587.65 L651.91,589.02 L653.19,590.39 L654.47,591.74 L655.75,593.09 L657.03,594.44 L658.31,595.77 L659.59,597.1 L660.87,598.42 L662.15,599.73 L663.43,601.03 L664.71,602.32 L665.99,603.61 L667.27,604.89 L668.55,606.15 L669.83,607.41 L671.11,608.66 L672.39,609.91 M682.39,619.28 L683.67,620.44 L684.94,621.58 L686.22,622.72 L687.49,623.84 L688.77,624.96 L690.04,626.07 L691.32,627.16 L692.59,628.25 L693.87,629.33 L695.14,630.4 L696.42,631.46 L697.69,632.51 L698.97,633.55 L700.24,634.58 L701.52,635.61 L702.79,636.62 L704.07,637.63 L705.34,638.62 L706.62,639.61 L707.89,640.58 L709.17,641.55 L710.44,642.51 L711.71,643.46 L712.99,644.4 L714.26,645.33 L715.54,646.25 L716.81,647.16 L718.09,648.07 L719.36,648.96 L720.64,649.85 L721.91,650.72 L723.19,651.59 L724.46,652.45 L725.74,653.3 L727.01,654.13 L728.29,654.97 L729.56,655.79 L730.84,656.6 L732.11,657.4 L733.39,658.2 L734.66,658.98 L735.94,659.76 L737.21,660.53 L738.49,661.29 L739.76,662.04 L741.04,662.78 L742.31,663.51 L743.59,664.23 L744.86,664.95 L746.14,665.65 L747.41,666.35 L748.69,667.03 L749.96,667.71 L751.24,668.38 L752.51,669.04 L753.79,669.7 L755.06,670.34 L756.33,670.97 L757.61,671.6 L758.88,672.22 L760.16,672.82 L761.43,673.42 L762.71,674.01 L763.98,674.6 L765.26,675.17 L766.53,675.73 L767.81,676.29 L769.08,676.84 L770.36,677.37 L771.63,677.9 L772.91,678.43 L774.18,678.94 L775.46,679.44 L776.73,679.94 L778.01,680.42 L779.28,680.9 L780.56,681.37 L781.83,681.83 L783.11,682.28 M794.81,686.04 L796.03,686.39 L797.26,686.74 L798.48,687.07 L799.71,687.41 L800.93,687.73 L802.16,688.05 L803.39,688.36 L804.61,688.66 L805.84,688.96 L807.06,689.25 L808.29,689.53 L809.51,689.81 L810.74,690.08 L811.96,690.35 L813.19,690.61 L814.42,690.86 L815.64,691.1 L816.87,691.35 L818.09,691.58 L819.32,691.81 L820.54,692.03 L821.77,692.25 L822.99,692.46 L824.22,692.67 L825.44,692.87 L826.67,693.07 L827.9,693.26 L829.12,693.45 L830.35,693.63 L831.57,693.8 L832.8,693.98 L834.02,694.14 L835.25,694.31 L836.47,694.46 L837.7,694.62 L838.93,694.77 L840.15,694.91 L841.38,695.05 L842.6,695.19 L843.83,695.32 L845.05,695.45 L846.28,695.58 L847.5,695.7 L848.73,695.81 L849.95,695.93 L851.18,696.04 L852.41,696.15 L853.63,696.25 L854.86,696.35 L856.08,696.45 L857.31,696.54 L858.53,696.63 L859.76,696.72 L860.98,696.81 L862.21,696.89 L863.43,696.97 L864.66,697.05 L865.89,697.13 L867.11,697.2 L868.34,697.27 L869.56,697.34 L870.79,697.41 L872.01,697.47 L873.24,697.53 L874.46,697.6 L875.69,697.66 L876.92,697.71 L878.14,697.77 L879.37,697.82 L880.59,697.88 L881.82,697.93 L883.04,697.98 L884.27,698.03 L885.49,698.08 L886.72,698.13 L887.94,698.17 L889.17,698.22 L890.4,698.26 L891.62,698.31" fill="none" stroke="#2a2a2a" stroke-width="1.25"/>
<path d="M571.28,439.57 L572.56,441.59 L573.84,443.62 L575.12,445.64 L576.4,447.67 L577.68,449.69 L578.96,451.71 L580.24,453.72 L581.52,455.74 L582.8,457.75 L584.08,459.76 L585.36,461.76 L586.64,463.77 L587.92,465.77 L589.2,467.76 L590.48,469.75 L591.76,471.74 L593.04,473.73 L594.32,475.7 L595.6,477.68 L596.88,479.65 L598.16,481.61 L599.44,483.57 L600.72,485.52 L602,487.47 L603.28,489.41 L604.56,491.34 L605.84,493.27 L607.12,495.19 L608.4,497.1 L609.68,499.01 L610.96,500.91 L612.24,502.8 L613.52,504.68 L614.8,506.56 L616.08,508.42 L617.36,510.28 L618.64,512.13 L619.92,513.97 L621.2,515.8 L622.48,517.62 L623.76,519.43 L625.04,521.24 L626.32,523.03 L627.6,524.81 L628.88,526.58 L630.16,528.34 L631.44,530.09 L632.72,531.82 L634,533.55 L635.27,535.26 L636.55,536.96 L637.83,538.65 L639.11,540.33 L640.39,542 L641.67,543.65 L642.95,545.29 L644.23,546.91 L645.51,548.52 L646.79,550.12 L648.07,551.71 L649.35,553.28 L650.63,554.83 L651.91,556.37 L653.19,557.9 L654.47,559.41 L655.75,560.9 L657.03,562.38 L658.31,563.85 L659.59,565.3 L660.87,566.73 L662.15,568.15 L663.43,569.54 L664.71,570.93 L665.99,572.29 L667.27,573.64 L668.55,574.97 L669.83,576.28 L671.11,577.58 L672.39,578.85 M682.39,588.18 L683.67,589.28 L684.94,590.37 L686.22,591.44 L687.49,592.5 L688.77,593.53 L690.04,594.55 L691.32,595.55 L692.59,596.54 L693.87,597.51 L695.14,598.46 L696.42,599.4 L697.69,600.32 L698.97,601.22 L700.24,602.11 L701.52,602.99 L702.79,603.85 L704.07,604.7 L705.34,605.53 L706.62,606.35 L707.89,607.15 L709.17,607.94 L710.44,608.72 L711.71,609.48 L712.99,610.23 L714.26,610.97 L715.54,611.7 L716.81,612.41 L718.09,613.12 L719.36,613.81 L720.64,614.49 L721.91,615.15 L723.19,615.81 L724.46,616.46 L725.74,617.09 L727.01,617.72 L728.29,618.33 L729.56,618.94 L730.84,619.54 L732.11,620.12 L733.39,620.7 L734.66,621.27 L735.94,621.83 L737.21,622.38 L738.49,622.92 L739.76,623.46 L741.04,623.99 L742.31,624.51 L743.59,625.02 L744.86,625.53 L746.14,626.03 L747.41,626.52 L748.69,627 L749.96,627.49 L751.24,627.96 L752.51,628.43 L753.79,628.89 L755.06,629.35 L756.33,629.8 L757.61,630.25 L758.88,630.7 L760.16,631.14 L761.43,631.57 L762.71,632.01 L763.98,632.44 L765.26,632.86 L766.53,633.28 L767.81,633.7 L769.08,634.12 L770.36,634.54 L771.63,634.95 L772.91,635.36 L774.18,635.77 L775.46,636.18 L776.73,636.58 L778.01,636.99 L779.28,637.4 L780.56,637.8 L781.83,638.21 L783.11,638.61 M794.81,642.36 L796.03,642.76 L797.26,643.15 L798.48,643.55 L799.71,643.96 L800.93,644.36 L802.16,644.76 L803.39,645.16 L804.61,645.57 L805.84,645.97 L807.06,646.38 L808.29,646.79 L809.51,647.2 L810.74,647.6 L811.96,648.01 L813.19,648.42 L814.42,648.84 L815.64,649.25 L816.87,649.66 L818.09,650.08 L819.32,650.49 L820.54,650.91 L821.77,651.32 L822.99,651.74 L824.22,652.16 L825.44,652.58 L826.67,652.99 L827.9,653.41 L829.12,653.84 L830.35,654.26 L831.57,654.68 L832.8,655.1 L834.02,655.52 L835.25,655.95 L836.47,656.37 L837.7,656.8 L838.93,657.22 L840.15,657.65 L841.38,658.08 L842.6,658.5 L843.83,658.93 L845.05,659.36 L846.28,659.79 L847.5,660.22 L848.73,660.65 L849.95,661.08 L851.18,661.51 L852.41,661.94 L853.63,662.37 L854.86,662.81 L856.08,663.24 L857.31,663.67 L858.53,664.1 L859.76,664.54 L860.98,664.97 L862.21,665.41 L863.43,665.84 L864.66,666.28 L865.89,666.71 L867.11,667.15 L868.34,667.59 L869.56,668.02 L870.79,668.46 L872.01,668.9 L873.24,669.33 L874.46,669.77 L875.69,670.21 L876.92,670.65 L878.14,671.09 L879.37,671.52 L880.59,671.96 L881.82,672.4 L883.04,672.84 L884.27,673.28 L885.49,673.72 L886.72,674.16 L887.94,674.6 L889.17,675.04 L890.4,675.48 L891.62,675.92" fill="none" stroke="#b3333b" stroke-width="1.25"/>
<rect x="563.18" y="483.49" width="7" height="7" fill="#000"/>
<rect x="673.89" y="611.17" width="7" height="7" fill="#000"/>
<rect x="784.61" y="680.47" width="7" height="7" fill="#000"/>
<rect x="895.32" y="695.07" width="7" height="7" fill="#000"/>
<circle cx="566.68" cy="432.28" r="3.75" fill="#f20000" stroke="#c40000" stroke-width="0.8"/>
<circle cx="677.39" cy="583.66" r="3.75" fill="#f20000" stroke="#c40000" stroke-width="0.8"/>
<circle cx="788.11" cy="640.2" r="3.75" fill="#f20000" stroke="#c40000" stroke-width="0.8"/>
<circle cx="898.82" cy="678.5" r="3.75" fill="#f20000" stroke="#c40000" stroke-width="0.8"/>
<rect x="539" y="395.8" width="387.5" height="328.3" fill="none" stroke="#111" stroke-width="1.5"/>
<text class="t" x="566.68" y="741.4" text-anchor="middle">0.2</text>
<text class="t" x="622.04" y="741.4" text-anchor="middle">0.3</text>
<text class="t" x="677.39" y="741.4" text-anchor="middle">0.4</text>
<text class="t" x="732.75" y="741.4" text-anchor="middle">0.5</text>
<text class="t" x="788.11" y="741.4" text-anchor="middle">0.6</text>
<text class="t" x="843.46" y="741.4" text-anchor="middle">0.7</text>
<text class="t" x="898.82" y="741.4" text-anchor="middle">0.8</text>
<text class="t" x="532.1" y="709.76" text-anchor="end">6</text>
<text class="t" x="532.1" y="673.28" text-anchor="end">8</text>
<text class="t" x="532.1" y="636.81" text-anchor="end">10</text>
<text class="t" x="532.1" y="600.33" text-anchor="end">12</text>
<text class="t" x="532.1" y="563.85" text-anchor="end">14</text>
<text class="t" x="532.1" y="527.37" text-anchor="end">16</text>
<text class="t" x="532.1" y="490.89" text-anchor="end">18</text>
<text class="t" x="532.1" y="454.42" text-anchor="end">20</text>
<text class="t" x="532.1" y="417.94" text-anchor="end">22</text>
<path d="M566.68 724.1v-6.5 M622.04 724.1v-6.5 M677.39 724.1v-6.5 M732.75 724.1v-6.5 M788.11 724.1v-6.5 M843.46 724.1v-6.5 M898.82 724.1v-6.5 M539 705.86h6.5 M539 669.38h6.5 M539 632.91h6.5 M539 596.43h6.5 M539 559.95h6.5 M539 523.47h6.5 M539 486.99h6.5 M539 450.52h6.5 M539 414.04h6.5" stroke="#111" stroke-width="1.4" fill="none"/>
<text class="s" x="760.9" y="541.8" font-size="24" text-anchor="middle">(d)</text>
<rect x="742.3" y="554" width="77.5" height="47.6" fill="#fff" stroke="#555" stroke-width="1.1"/>
<path d="M745.7 568.3H755.7M766.7 568.3H776" stroke="#222" stroke-width="1" fill="none"/>
<path d="M745.7 591.3H755.7M766.7 591.3H776" stroke="#b3333b" stroke-width="1" fill="none"/>
<rect x="757.7" y="564.8" width="7" height="7" fill="#000"/>
<circle cx="761.2" cy="591.3" r="3.75" fill="#f20000" stroke="#c40000" stroke-width="0.8"/>
<text class="s i" x="780.2" y="573.3" font-size="17.3">cmc</text>
<text class="s i" x="780.2" y="596.3" font-size="17.3">cmc*</text>
<text class="s" font-size="16" transform="translate(509,570.7) rotate(-90)" text-anchor="middle"><tspan font-style="italic">cmc</tspan> (mM)</text>
<text class="t i" x="712.8" y="769.2" font-size="17" style="font-size:17px">&#945;<tspan dy="6.4">CET</tspan></text>
</svg></body></html>
